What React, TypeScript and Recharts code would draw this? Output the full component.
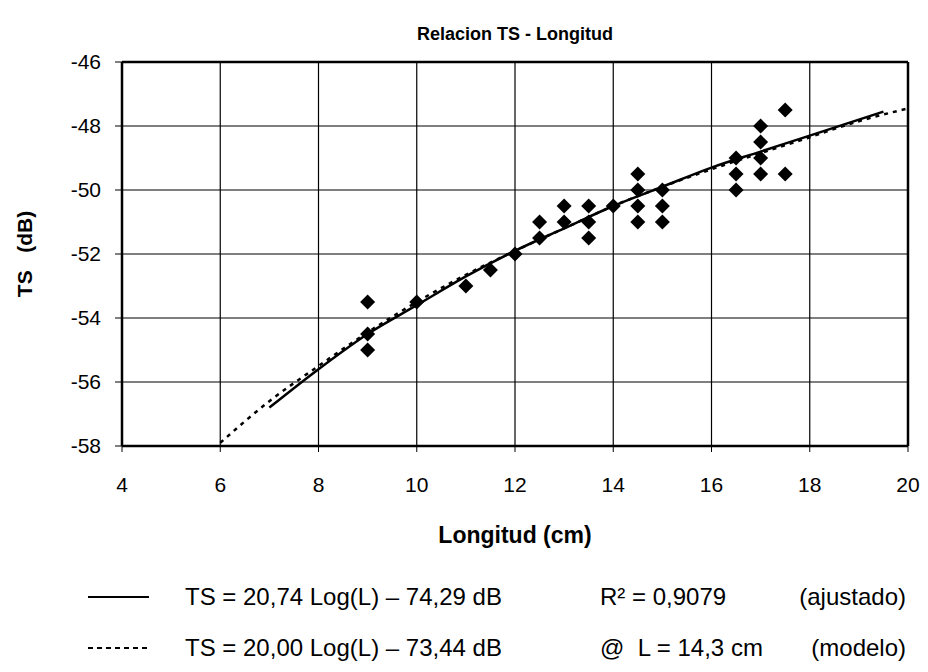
import React from "react";
import {
  ComposedChart,
  Scatter,
  Line,
  XAxis,
  YAxis,
  CartesianGrid,
  ReferenceLine,
} from "recharts";

// Measured points (longitud cm, TS dB)
const pointL = [
  9, 9, 9, 10, 11, 11.5, 12, 12.5, 12.5, 13, 13, 13.5, 13.5, 13.5, 14,
  14.5, 14.5, 14.5, 14.5, 15, 15, 15, 16.5, 16.5, 16.5, 17, 17, 17, 17, 17.5, 17.5,
];
const pointTS = [
  -53.5, -54.5, -55, -53.5, -53, -52.5, -52, -51, -51.5, -50.5, -51, -50.5, -51, -51.5, -50.5,
  -49.5, -50, -50.5, -51, -50, -50.5, -51, -49, -49.5, -50, -48, -48.5, -49, -49.5, -47.5, -49.5,
];

// Fitted curve (solid)
const fitL = [7, 8, 9, 10, 11, 12, 13, 14, 15, 16, 17, 18, 19, 19.5];
const fitTS = [-56.8, -55.6, -54.5, -53.6, -52.7, -51.9, -51.2, -50.5, -49.9, -49.3, -48.8, -48.3, -47.8, -47.55];

// Model curve (dashed)
const modelL = [6, 7, 8, 9, 10, 11, 12, 13, 14, 15, 16, 17, 18, 19, 20];
const modelTS = [-57.9, -56.6, -55.5, -54.45, -53.5, -52.65, -51.9, -51.2, -50.5, -49.9, -49.35, -48.85, -48.35, -47.85, -47.45];

const xTicks = [4, 6, 8, 10, 12, 14, 16, 18, 20];
const yTicks = [-58, -56, -54, -52, -50, -48, -46];

const title = "Relacion TS - Longitud";
const xLabel = "Longitud (cm)";
const yLabel = "TS\u00a0\u00a0\u00a0(dB)";
const legendRows = [
  { eq: "TS = 20,74 Log(L) – 74,29 dB", mid: "R² = 0,9079", note: "(ajustado)", dashed: false },
  { eq: "TS = 20,00 Log(L) – 73,44 dB", mid: "@\u00a0\u00a0L = 14,3 cm", note: "(modelo)", dashed: true },
];

const points = pointL.map((x, i) => ({ x, y: pointTS[i] }));
const fit = fitL.map((x, i) => ({ x, y: fitTS[i] }));
const model = modelL.map((x, i) => ({ x, y: modelTS[i] }));

const FONT = "'Liberation Sans', Arial, sans-serif";

const Diamond = (props: any) => {
  const { cx, cy } = props;
  const r = 7.5;
  return (
    <polygon
      points={`${cx},${cy - r} ${cx + r},${cy} ${cx},${cy + r} ${cx - r},${cy}`}
      fill="#000"
    />
  );
};

export default function App() {
  return (
    <div style={{ position: "absolute", left: 0, top: 0, width: 928, height: 672, background: "#fff", fontFamily: FONT }}>
      <div
        style={{
          position: "absolute",
          left: 0,
          width: 1030,
          top: 24,
          textAlign: "center",
          fontWeight: "bold",
          fontSize: 18,
          color: "#000",
        }}
      >
        {title}
      </div>
      <ComposedChart
        width={928}
        height={672}
        margin={{ top: 62, right: 20, bottom: 166, left: 52 }}
        style={{ fontFamily: FONT }}
      >
        <CartesianGrid stroke="#000" strokeWidth={1.2} />
        <XAxis
          type="number"
          dataKey="x"
          domain={[4, 20]}
          ticks={xTicks}
          height={60}
          tickSize={6}
          tickMargin={25}
          axisLine={{ stroke: "#000", strokeWidth: 2.5 }}
          tickLine={{ stroke: "#000" }}
          tick={{ fill: "#000", fontSize: 21 }}
          allowDataOverflow
          label={{ value: xLabel, position: "insideBottom", offset: -37, fill: "#000", fontSize: 23, fontWeight: "bold" }}
        />
        <YAxis
          type="number"
          dataKey="y"
          domain={[-58, -46]}
          ticks={yTicks}
          width={70}
          tickSize={7}
          tickMargin={14}
          axisLine={{ stroke: "#000", strokeWidth: 2.5 }}
          tickLine={{ stroke: "#000" }}
          tick={{ fill: "#000", fontSize: 21 }}
          allowDataOverflow
          label={{ value: yLabel, angle: -90, position: "insideLeft", offset: -27, fill: "#000", fontSize: 21, fontWeight: "bold", style: { textAnchor: "middle" } }}
        />
        <ReferenceLine x={20} stroke="#000" strokeWidth={2.5} />
        <ReferenceLine y={-46} stroke="#000" strokeWidth={2.5} />
        <Line
          data={model}
          dataKey="y"
          type="monotone"
          stroke="#000"
          strokeWidth={2.5}
          strokeDasharray="4 5"
          dot={false}
          isAnimationActive={false}
        />
        <Line
          data={fit}
          dataKey="y"
          type="monotone"
          stroke="#000"
          strokeWidth={2.5}
          dot={false}
          isAnimationActive={false}
        />
        <Scatter data={points} dataKey="y" shape={Diamond} isAnimationActive={false} />
      </ComposedChart>
      <svg
        width={928}
        height={100}
        style={{ position: "absolute", left: 0, top: 572 }}
      >
        {legendRows.map((r, i) => {
          const y = 25 + i * 51;
          return (
            <g key={i} fontFamily={FONT} fontSize={24} fill="#000">
              <line
                x1={88}
                x2={149}
                y1={y}
                y2={y}
                stroke="#000"
                strokeWidth={1.8}
                strokeDasharray={r.dashed ? "5 4" : undefined}
              />
              <text x={185} y={y + 8}>{r.eq}</text>
              <text x={600} y={y + 8}>{r.mid}</text>
              <text x={906} y={y + 8} textAnchor="end">{r.note}</text>
            </g>
          );
        })}
      </svg>
    </div>
  );
}
